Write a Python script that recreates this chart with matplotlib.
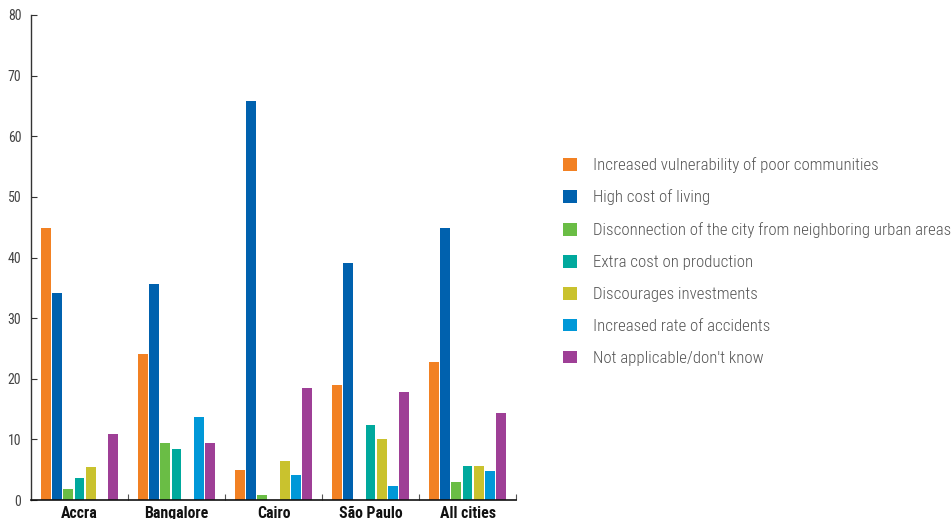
import matplotlib
matplotlib.use("Agg")
import matplotlib.pyplot as plt
import numpy as np
from matplotlib.patches import Patch
from matplotlib import font_manager

cities = ["Accra", "Bangalore", "Cairo", "São Paulo", "All cities"]
series_names = [
    "Increased vulnerability of poor communities",
    "High cost of living",
    "Disconnection of the city from neighboring urban areas",
    "Extra cost on production",
    "Discourages investments",
    "Increased rate of accidents",
    "Not applicable/don't know",
]
vulnerability = [44.8, 24.1, 4.9, 19.0, 22.8]
cost_living = [34.1, 35.6, 65.8, 39.1, 44.9]
disconnection = [1.8, 9.4, 0.8, 0.0, 3.0]
extra_cost = [3.6, 8.4, 0.0, 12.4, 5.6]
discourages = [5.4, 0.0, 6.4, 10.1, 5.6]
accidents = [0.0, 13.7, 4.1, 2.3, 4.8]
not_applicable = [10.9, 9.4, 18.5, 17.8, 14.4]
series = [vulnerability, cost_living, disconnection, extra_cost, discourages, accidents, not_applicable]
colors = ["#F28123", "#0061AE", "#6ABD45", "#00A99D", "#C9C22E", "#0098D8", "#9E3F96"]
y_ticks = [0, 10, 20, 30, 40, 50, 60, 70, 80]

names = {f.name for f in font_manager.fontManager.ttflist}
narrow = "Roboto Condensed" if "Roboto Condensed" in names else "DejaVu Sans"
fp_reg = font_manager.FontProperties(family=narrow, weight="light", size=12.2)
fp_bold = font_manager.FontProperties(family=narrow, weight="bold", size=11.4)
fp_tick = font_manager.FontProperties(family=narrow, size=10)

W, H = 953, 519
fig = plt.figure(figsize=(W / 100, H / 100), dpi=100)
ax = fig.add_axes([31 / W, 19 / H, (516 - 31) / W, 485 / H])

x = np.arange(len(cities))
step = 0.1155
width = 0.103
for i, (vals, c) in enumerate(zip(series, colors)):
    ax.bar(x + (i - 3) * step, vals, width=width, color=c, linewidth=0)

ax.set_xlim(-0.5, len(cities) - 0.5)
ax.set_ylim(0, 80)
for s in ["top", "right"]:
    ax.spines[s].set_visible(False)
ax.spines["left"].set_color("#333333")
ax.spines["bottom"].set_color("#111111")
ax.spines["left"].set_linewidth(1.0)
ax.spines["bottom"].set_linewidth(1.2)

ax.set_yticks(y_ticks)
ax.set_yticklabels([str(v) for v in y_ticks], color="#444444", fontproperties=fp_tick)
ax.tick_params(axis="y", direction="in", length=4, width=0.8, color="#333333", pad=7)

ax.set_xticks(x + 0.5)
ax.set_xticklabels([])
ax.tick_params(axis="x", which="major", direction="in", length=4, width=0.8, color="#555555")
ax.set_xticks(x, minor=True)
ax.set_xticklabels(cities, minor=True, fontproperties=fp_bold, color="#111111")
ax.tick_params(axis="x", which="minor", length=0, pad=4)

handles = [Patch(facecolor=c, edgecolor="none") for c in colors]
leg = fig.legend(handles, series_names, loc="upper left", bbox_to_anchor=(563 / W, 1 - 157 / H),
                 frameon=False, borderpad=0, borderaxespad=0, handlelength=0.8, handleheight=0.8,
                 handletextpad=0.95, labelspacing=0.98, prop=fp_reg)
for t in leg.get_texts():
    t.set_color("#555555")

fig.savefig("out.png", dpi=100)
